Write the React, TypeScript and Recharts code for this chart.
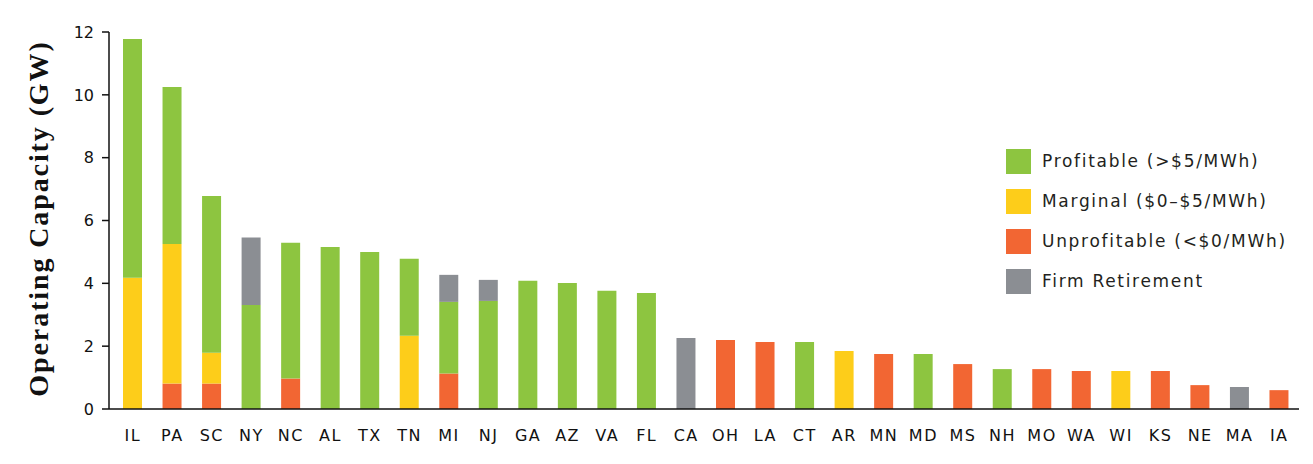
import React from 'react';
import { BarChart, Bar, XAxis, YAxis } from 'recharts';

const states = ['IL','PA','SC','NY','NC','AL','TX','TN','MI','NJ','GA','AZ','VA','FL','CA','OH','LA','CT','AR','MN','MD','MS','NH','MO','WA','WI','KS','NE','MA','IA'];
const unprofitable = [0,0.81,0.81,0,0.97,0,0,0,1.13,0,0,0,0,0,0,2.2,2.13,0,0,1.75,0,1.43,0,1.27,1.21,0,1.21,0.76,0,0.6];
const marginal =     [4.18,4.44,0.98,0,0,0,0,2.33,0,0,0,0,0,0,0,0,0,0,1.85,0,0,0,0,0,0,1.21,0,0,0,0];
const profitable =   [7.6,5.0,4.99,3.31,4.32,5.16,5.0,2.45,2.28,3.44,4.08,4.01,3.76,3.69,0,0,0,2.13,0,0,1.75,0,1.27,0,0,0,0,0,0,0];
const retirement =   [0,0,0,2.15,0,0,0,0,0.86,0.67,0,0,0,0,2.26,0,0,0,0,0,0,0,0,0,0,0,0,0,0.7,0];
const yTicks = [0,2,4,6,8,10,12];

const seriesKeys = ['unprofitable','marginal','profitable','retirement'];
const seriesNames: Record<string,string> = {
  profitable: 'Profitable (>$5/MWh)',
  marginal: 'Marginal ($0–$5/MWh)',
  unprofitable: 'Unprofitable (<$0/MWh)',
  retirement: 'Firm Retirement',
};
const seriesColors: Record<string,string> = {
  profitable: '#8DC540',
  marginal: '#FDCD1A',
  unprofitable: '#F26633',
  retirement: '#8B8E93',
};
const legendOrder = ['profitable','marginal','unprofitable','retirement'];

const data = states.map((s, i) => ({
  state: s,
  unprofitable: unprofitable[i],
  marginal: marginal[i],
  profitable: profitable[i],
  retirement: retirement[i],
}));

const sans = '"DejaVu Sans", sans-serif';

const YLabel = (props: any) => {
  const vb = props.viewBox || { x: 0, y: 0, width: 0, height: 0 };
  const cx = vb.x + 30;
  const cy = vb.y + vb.height / 2 - 2;
  return (
    <text
      x={cx}
      y={cy}
      transform={`rotate(-90 ${cx} ${cy})`}
      textAnchor="middle"
      dominantBaseline="central"
      style={{ fontFamily: '"Liberation Serif", serif', fontWeight: 700, fontSize: 28, letterSpacing: 1.9, fill: '#111' }}
    >
      Operating Capacity (GW)
    </text>
  );
};

export default function App() {
  return (
    <div style={{ position: 'relative', width: 1300, height: 450 }}>
      <BarChart
        width={1300}
        height={450}
        data={data}
        margin={{ top: 24, right: 9, bottom: 19, left: 0 }}
        barSize={19}
      >
        <XAxis
          dataKey="state"
          height={30}
          tickLine={false}
          tickMargin={15}
          padding={{ left: 4, right: 0 }}
          axisLine={{ stroke: '#111', strokeWidth: 1.5 }}
          tick={{ fontFamily: sans, fontSize: 16, letterSpacing: 1.5, fill: '#111' }}
          interval={0}
        />
        <YAxis
          width={101}
          domain={[0, 12]}
          ticks={yTicks}
          tickSize={7}
          tickMargin={8}
          axisLine={{ stroke: '#111', strokeWidth: 1.5 }}
          tickLine={{ stroke: '#111', strokeWidth: 1.5 }}
          tick={{ fontFamily: sans, fontSize: 16, fill: '#111' }}
          label={{ content: YLabel }}
        />
        {seriesKeys.map((k) => (
          <Bar
            key={k}
            dataKey={k}
            name={seriesNames[k]}
            stackId="a"
            fill={seriesColors[k]}
            isAnimationActive={false}
          />
        ))}
      </BarChart>
      <div style={{ position: 'absolute', left: 998, top: 133, display: 'flex', flexDirection: 'column' }}>
        {legendOrder.map((k) => (
          <div key={k} style={{ display: 'flex', alignItems: 'center', height: 40 }}>
            <div style={{ width: 25, height: 25, background: seriesColors[k] }} />
            <span style={{ marginLeft: 11, fontFamily: sans, fontSize: 17, letterSpacing: 1.7, color: '#231F20', whiteSpace: 'nowrap' }}>{seriesNames[k]}</span>
          </div>
        ))}
      </div>
    </div>
  );
}
